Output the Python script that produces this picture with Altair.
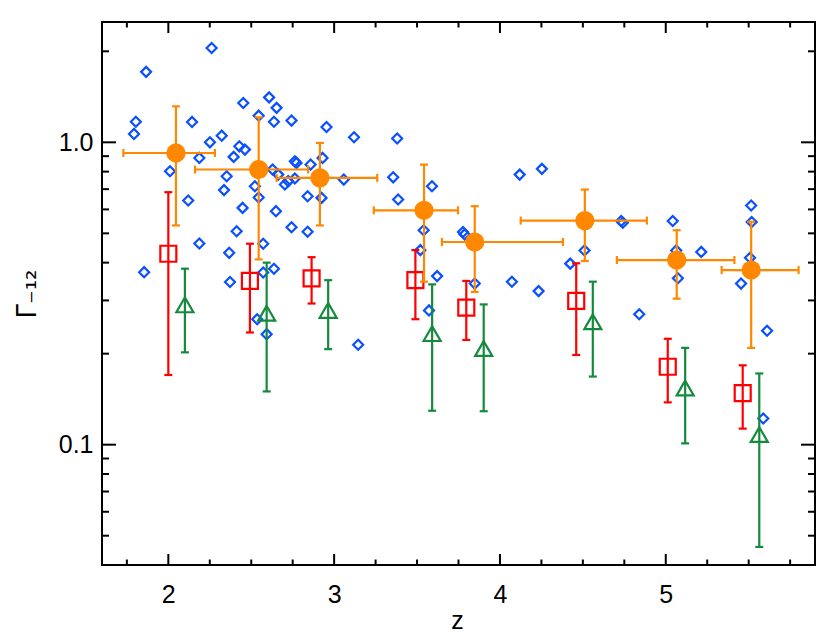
import altair as alt
import pandas as pd

# ---------------- data ----------------
# blue diamonds: individual measurements
dia_z = [2.261, 1.866, 1.804, 1.793, 2.143, 2.452, 2.608, 2.653, 2.545, 2.637,
         2.743, 2.954, 3.12, 2.322, 2.251, 2.428, 2.462, 2.187, 2.394, 2.01,
         2.352, 2.336, 2.12, 2.522, 2.545, 2.448, 2.649, 2.629, 2.663, 2.703,
         2.723, 2.763, 2.773, 2.763, 2.858, 2.93, 2.84, 2.924, 3.058, 2.412,
         2.743, 2.84, 2.187, 2.367, 2.572, 2.372, 2.572, 2.637, 1.854, 2.536,
         2.593, 3.145, 3.38, 3.356, 3.59, 3.386, 3.54, 3.777, 3.787, 3.52,
         3.621, 3.848, 3.572, 4.119, 4.253, 4.072, 4.233, 4.51, 4.424, 4.731,
         4.741, 4.84, 5.042, 5.214, 5.063, 5.073, 5.515, 5.518, 5.508, 5.454,
         5.611, 5.588]
dia_g = [2.05, 1.71, 1.17, 1.066, 1.168, 1.349, 1.408, 1.30, 1.225, 1.17,
         1.18, 1.124, 1.039, 1.052, 1.0, 0.970, 0.946, 0.888, 0.895, 0.802,
         0.772, 0.695, 0.642, 0.716, 0.657, 0.607, 0.592, 0.813, 0.782, 0.725,
         0.744, 0.866, 0.855, 0.759, 0.844, 0.888, 0.663, 0.655, 0.753, 0.508,
         0.524, 0.506, 0.463, 0.431, 0.462, 0.345, 0.371, 0.382, 0.372, 0.26,
         0.232, 0.214, 1.03, 0.766, 0.716, 0.647, 0.512, 0.505, 0.496, 0.44,
         0.361, 0.341, 0.278, 0.782, 0.817, 0.346, 0.322, 0.439, 0.397, 0.549,
         0.542, 0.27, 0.549, 0.434, 0.439, 0.355, 0.618, 0.545, 0.415, 0.341,
         0.238, 0.122]

# orange filled circles with x and y errors
org_z = [2.046, 2.545, 2.914, 3.542, 3.848, 4.512, 5.066, 5.515]
org_g = [0.922, 0.813, 0.763, 0.596, 0.468, 0.551, 0.408, 0.378]
org_glo = [0.531, 0.41, 0.531, 0.346, 0.32, 0.405, 0.304, 0.209]
org_ghi = [1.315, 1.21, 0.995, 0.844, 0.615, 0.698, 0.512, 0.546]
org_zlo = [1.729, 2.161, 2.653, 3.239, 3.65, 4.125, 4.705, 5.337]
org_zhi = [2.281, 2.843, 3.26, 3.747, 4.38, 4.886, 5.414, 5.801]

# red open squares
red_z = [2.0, 2.492, 2.864, 3.49, 3.797, 4.46, 5.012, 5.464]
red_g = [0.428, 0.348, 0.355, 0.35, 0.284, 0.299, 0.181, 0.148]
red_lo = [0.170, 0.235, 0.293, 0.26, 0.222, 0.198, 0.138, 0.113]
red_hi = [0.684, 0.462, 0.417, 0.44, 0.348, 0.398, 0.224, 0.183]

# green open triangles
grn_z = [2.10, 2.593, 2.964, 3.591, 3.902, 4.56, 5.117, 5.564]
grn_g = [0.290, 0.272, 0.278, 0.233, 0.208, 0.255, 0.154, 0.108]
grn_lo = [0.202, 0.150, 0.207, 0.1295, 0.129, 0.168, 0.101, 0.0459]
grn_hi = [0.382, 0.40, 0.35, 0.339, 0.291, 0.346, 0.209, 0.172]

# axis ticks
x_major = [2, 3, 4, 5]
x_minor = [1.75, 2.25, 2.5, 2.75, 3.25, 3.5, 3.75, 4.25, 4.5, 4.75, 5.25, 5.5, 5.75]
y_major = [0.1, 1.0]
y_minor = [0.05, 0.06, 0.07, 0.08, 0.09, 0.2, 0.3, 0.4, 0.5, 0.6, 0.7, 0.8, 0.9, 2.0]

# ---------------- chart ----------------
W, H = 713, 543
BLUE = "#0A50FF"
ORANGE = "#FF8800"
RED = "#FF0000"
GREEN = "#148A3C"
FONT = "Liberation Sans"

xs = alt.Scale(domain=[1.6, 5.9], nice=False, zero=False)
ys = alt.Scale(type="log", domain=[0.04, 2.5], nice=False)

xax = alt.Axis(title="z", values=x_major, format="d", ticks=False, tickSize=0,
               domain=False, grid=False, labelFont=FONT, labelFontSize=25,
               labelColor="black", labelPadding=37, labelBaseline="alphabetic",
               titleFont=FONT, titleFontSize=25, titleFontWeight="normal",
               titleColor="black", titleX=355, titleY=63,
               titleBaseline="alphabetic", titleAlign="center")
yax = alt.Axis(title="Γ₋₁₂", values=y_major, format=".1f", ticks=False, tickSize=0,
               domain=False, grid=False, labelFont=FONT, labelFontSize=25,
               labelColor="black", labelPadding=9,
               titleFont="DejaVu Sans", titleFontSize=26, titleFontWeight="normal",
               titleColor="black", titleAngle=270, titleX=-67, titleY=H / 2,
               titleBaseline="alphabetic", titleAlign="center")

def X(f):
    return alt.X(f, type="quantitative", scale=xs, axis=xax)

def Y(f):
    return alt.Y(f, type="quantitative", scale=ys, axis=yax)

dia = pd.DataFrame({"z": dia_z, "g": dia_g})
org = pd.DataFrame({"z": org_z, "g": org_g, "lo": org_glo, "hi": org_ghi,
                    "zlo": org_zlo, "zhi": org_zhi})
red = pd.DataFrame({"z": red_z, "g": red_g, "lo": red_lo, "hi": red_hi})
grn = pd.DataFrame({"z": grn_z, "g": grn_g, "lo": grn_lo, "hi": grn_hi})

layers = []
layers.append(alt.Chart(dia).mark_point(shape="diamond", size=100, strokeWidth=2.2,
                                        color=BLUE, opacity=1, filled=False)
              .encode(x=X("z"), y=Y("g")))

def vbars(df, color):
    bar = alt.Chart(df).mark_rule(color=color, strokeWidth=2.2).encode(
        x=X("z"), y=Y("lo"), y2="hi")
    caps = alt.Chart(df).transform_fold(["lo", "hi"], as_=["k", "v"]).mark_tick(
        orient="horizontal", size=8, thickness=2.2, color=color, opacity=1
    ).encode(x=X("z"), y=Y("v"))
    return [bar, caps]

layers += vbars(red, RED)
layers.append(alt.Chart(red).mark_point(shape="square", size=256, strokeWidth=2.2,
                                        color=RED, opacity=1, filled=False)
              .encode(x=X("z"), y=Y("g")))
layers += vbars(grn, GREEN)
layers.append(alt.Chart(grn).mark_point(shape="triangle-up", size=290, strokeWidth=2.2,
                                        color=GREEN, opacity=1, filled=False)
              .encode(x=X("z"), y=Y("g")))
layers += vbars(org, ORANGE)
layers.append(alt.Chart(org).mark_rule(color=ORANGE, strokeWidth=2.2).encode(
    x=X("zlo"), x2="zhi", y=Y("g")))
layers.append(alt.Chart(org).transform_fold(["zlo", "zhi"], as_=["k", "v"]).mark_tick(
    orient="vertical", size=8, thickness=2.2, color=ORANGE, opacity=1
).encode(x=X("v"), y=Y("g")))
layers.append(alt.Chart(org).mark_circle(size=370, color=ORANGE, opacity=1)
              .encode(x=X("z"), y=Y("g")))

# inward ticks on all four sides
def xticks(vals, ln):
    d = pd.DataFrame({"v": vals})
    b = alt.Chart(d).mark_rule(color="black", strokeWidth=2).encode(
        x=X("v"), y=alt.value(H), y2=alt.value(H - ln))
    t = alt.Chart(d).mark_rule(color="black", strokeWidth=2).encode(
        x=X("v"), y=alt.value(0), y2=alt.value(ln))
    return [b, t]

def yticks(vals, ln):
    d = pd.DataFrame({"v": vals})
    l = alt.Chart(d).mark_rule(color="black", strokeWidth=2).encode(
        y=Y("v"), x=alt.value(0), x2=alt.value(ln))
    r = alt.Chart(d).mark_rule(color="black", strokeWidth=2).encode(
        y=Y("v"), x=alt.value(W), x2=alt.value(W - ln))
    return [l, r]

layers += xticks(x_major, 11) + xticks(x_minor, 5.5)
layers += yticks(y_major, 14) + yticks(y_minor, 7)

chart = alt.layer(*layers).properties(
    width=W, height=H,
    autosize=alt.AutoSizeParams(type="none"),
    padding={"left": 94, "top": 14, "right": 5, "bottom": 68},
    background="white",
).configure_view(stroke="black", strokeWidth=2)

chart.save("out.html", embed_options={"renderer": "svg", "actions": False})
